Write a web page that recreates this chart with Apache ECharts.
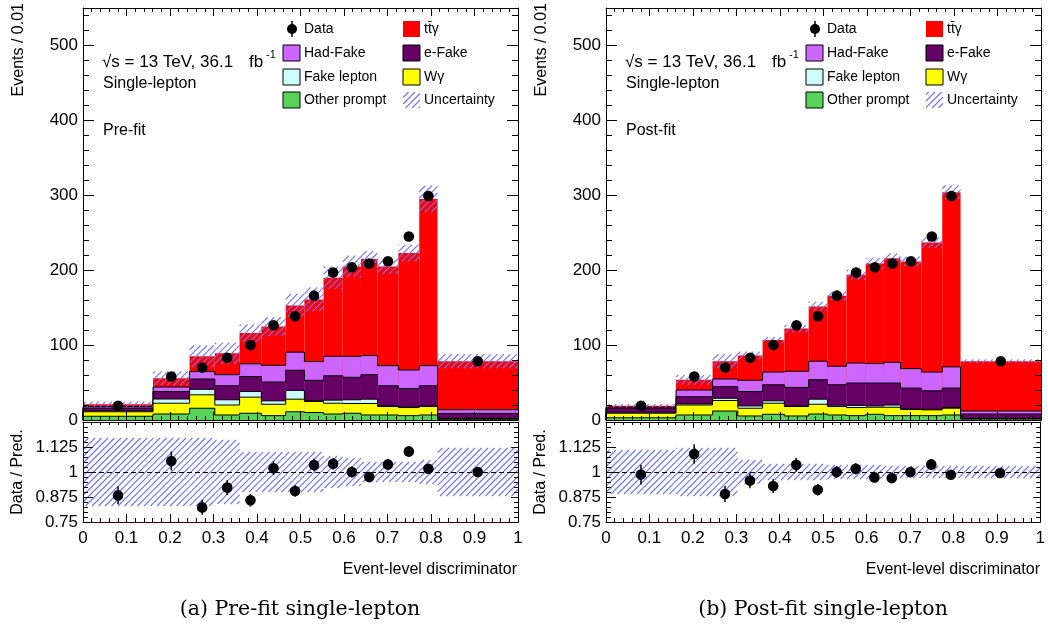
<!DOCTYPE html>
<html><head><meta charset="utf-8">
<script src="https://cdn.jsdelivr.net/npm/echarts@6/dist/echarts.min.js"></script>
<style>html,body{margin:0;padding:0;background:#fff}#c{width:1048px;height:630px}</style>
</head><body><div id="c"></div>
<script>
// ---------- DATA ----------
const binEdges = [0, 0.161, 0.245, 0.303, 0.360, 0.410, 0.466, 0.509, 0.553, 0.597, 0.639, 0.677, 0.725, 0.773, 0.815, 1.0];
const dataValues = [19, 58, 70, 83, 100, 126.5, 138.6, 166, 197, 204, 209, 212, 245, 299, 78.5];
const dataRelErr = [0.05, 0.045, 0.045, 0.04, 0.037, 0.033, 0.032, 0.03, 0.028, 0.027, 0.027, 0.027, 0.025, 0.022, 0.015];

const componentNames = ['Other prompt', 'W\u03b3', 'Fake lepton', 'e-Fake', 'Had-Fake', 'tt\u0304\u03b3'];
const componentColors = ['#58d35a', '#ffff00', '#ccfcfc', '#650065', '#cc66ff', '#ff0000'];

// Pre-fit (bottom -> top of stack)
const preOtherPrompt = [5, 8, 15.7, 6.7, 9, 5.8, 11, 10, 8, 9, 6.7, 6.7, 5.8, 6.7, 1];
const preWgamma      = [6, 14.4, 17.9, 13.3, 21.5, 15.2, 16.8, 14.7, 14.4, 13, 15.3, 11.3, 10.8, 11.3, 0.5];
const preFakeLepton  = [1, 5.6, 7.4, 7, 7.5, 4.6, 11.7, 1, 4.1, 5, 5.8, 1, 0.9, 1, 0.3];
const preEFake       = [4, 10, 13.7, 18.7, 20, 25.1, 26.9, 27.3, 32.5, 30, 32.7, 26.7, 24.5, 26.7, 7];
const preHadFake     = [2, 6, 9.9, 14.8, 17, 22.3, 24.2, 25, 26, 28, 25.5, 26.9, 24.8, 26.9, 5];
const preTtgamma     = [3, 11.6, 20.4, 28.5, 41, 51.7, 62.4, 83, 105, 120, 129, 132.4, 156.2, 222.4, 64.7];
const preRatio  = [0.883, 1.055, 0.823, 0.922, 0.859, 1.019, 0.905, 1.035, 1.041, 1.0, 0.975, 1.038, 1.103, 1.016, 1.0];
const preRelUnc = [0.17, 0.17, 0.17, 0.16, 0.10, 0.10, 0.10, 0.10, 0.08, 0.07, 0.05, 0.05, 0.05, 0.06, 0.12];

// Post-fit
const postOtherPrompt = [3, 6.7, 12, 5.4, 7.6, 5.4, 8, 6.7, 5.8, 7.6, 5.8, 5.8, 5.8, 6.7, 1.3];
const postWgamma      = [6, 13.3, 14, 10.3, 14.8, 12.6, 13, 11.3, 10.8, 9.4, 11.2, 8.2, 7.7, 9, 0.2];
const postFakeLepton  = [1.3, 1.5, 3, 3.1, 3.2, 0.8, 6.8, 1.7, 2.7, 1.8, 3, 0.8, 0.8, 0.9, 0.3];
const postEFake       = [5.4, 9.5, 15.4, 19.2, 21.4, 24.7, 26, 27.3, 30, 30.5, 29.3, 27.8, 24.7, 26, 6.2];
const postHadFake     = [1.3, 9, 10.3, 15, 17, 21.5, 24.7, 24.7, 26.7, 26, 27.7, 26, 25, 28.3, 4];
const postTtgamma     = [2, 13.8, 23.8, 33, 42.7, 57, 73.1, 94.3, 118, 133.7, 139, 143.1, 172.8, 233.1, 66.5];
const postRatio  = [0.987, 1.09, 0.89, 0.957, 0.93, 1.036, 0.911, 1.0, 1.016, 0.973, 0.97, 1.0, 1.038, 0.986, 0.995];
const postRelUnc = [0.11, 0.12, 0.12, 0.06, 0.04, 0.04, 0.04, 0.035, 0.035, 0.035, 0.03, 0.03, 0.03, 0.03, 0.03];

const mainYTicks = [0, 100, 200, 300, 400, 500];
const ratioYTicks = [0.75, 0.875, 1, 1.125];

// ---------- HELPERS ----------
const FONT = 'Liberation Sans, Arial, sans-serif';
const HATCH_COLOR = 'rgb(112,112,255)';
const HATCH_STEP = 6.5;
function hatchLines(x, y, w, h) {
  const out = [];
  if (w <= 0 || h <= 0) return out;
  const s = HATCH_STEP;
  const c0 = Math.ceil((x + y) / s) * s;
  for (let c = c0; c <= x + w + y + h; c += s) {
    const xa = Math.max(x, c - y - h), xb = Math.min(x + w, c - y);
    if (xb - xa > 0.3) {
      out.push({ type: 'line', silent: true,
        shape: { x1: xa, y1: c - xa, x2: xb, y2: c - xb },
        style: { stroke: HATCH_COLOR, lineWidth: 1.1, opacity: 1 } });
    }
  }
  return out;
}

const panels = [
  { comps: [preOtherPrompt, preWgamma, preFakeLepton, preEFake, preHadFake, preTtgamma], ratio: preRatio, unc: preRelUnc, left: 83, label: 'Pre-fit', caption: '(a) Pre-fit single-lepton', capX: 300 },
  { comps: [postOtherPrompt, postWgamma, postFakeLepton, postEFake, postHadFake, postTtgamma], ratio: postRatio, unc: postRelUnc, left: 606, label: 'Post-fit', caption: '(b) Post-fit single-lepton', capX: 823 }
];
const PW = 435;

const grids = [], xAxes = [], yAxes = [], series = [], graphics = [];

function axisCommon(extra) {
  return Object.assign({
    axisLine: { show: true, onZero: false, lineStyle: { color: '#000', width: 1 } },
    splitLine: { show: false },
    z: 10
  }, extra);
}

panels.forEach((p, pi) => {
  const gMain = grids.length;
  grids.push({ left: p.left, top: 8, width: PW, height: 412 });
  const gRatio = grids.length;
  grids.push({ left: p.left, top: 422, width: PW, height: 100 });

  const xMainB = xAxes.length;
  xAxes.push(axisCommon({ type: 'value', gridIndex: gMain, position: 'bottom', min: 0, max: 1, interval: 0.1,
    axisTick: { inside: true, length: 8, lineStyle: { color: '#000' } },
    minorTick: { show: true, splitNumber: 5, length: 4, lineStyle: { color: '#000' } },
    axisLabel: { show: false } }));
  xAxes.push(axisCommon({ type: 'value', gridIndex: gMain, position: 'top', min: 0, max: 1, interval: 0.1,
    axisTick: { inside: true, length: 8, lineStyle: { color: '#000' } },
    minorTick: { show: true, splitNumber: 5, length: 4, lineStyle: { color: '#000' } },
    axisLabel: { show: false } }));
  const xRatioB = xAxes.length;
  xAxes.push(axisCommon({ type: 'value', gridIndex: gRatio, position: 'bottom', min: 0, max: 1, interval: 0.1,
    axisLine: { show: true, onZero: false, lineStyle: { color: '#3a0a0a', width: 1 } },
    axisTick: { inside: true, length: 8, lineStyle: { color: '#000' } },
    minorTick: { show: true, splitNumber: 5, length: 4, lineStyle: { color: '#000' } },
    axisLabel: { show: true, margin: 8, color: '#000', fontSize: 17, fontFamily: FONT } }));
  xAxes.push(axisCommon({ type: 'value', gridIndex: gRatio, position: 'top', min: 0, max: 1, interval: 0.1,
    axisTick: { inside: true, length: 6, lineStyle: { color: '#000' } },
    minorTick: { show: true, splitNumber: 5, length: 3, lineStyle: { color: '#000' } },
    axisLabel: { show: false } }));

  const yMainL = yAxes.length;
  yAxes.push(axisCommon({ type: 'value', gridIndex: gMain, position: 'left', min: 0, max: 550, interval: 100,
    axisTick: { inside: true, length: 11, lineStyle: { color: '#000' } },
    minorTick: { show: true, splitNumber: 5, length: 6, lineStyle: { color: '#000' } },
    axisLabel: { show: true, showMaxLabel: false, margin: 5, color: '#000', fontSize: 17, fontFamily: FONT,
      formatter: v => (mainYTicks.indexOf(v) >= 0 ? String(v) : '') } }));
  yAxes.push(axisCommon({ type: 'value', gridIndex: gMain, position: 'right', min: 0, max: 550, interval: 100,
    axisTick: { inside: true, length: 11, lineStyle: { color: '#000' } },
    minorTick: { show: true, splitNumber: 5, length: 6, lineStyle: { color: '#000' } },
    axisLabel: { show: false } }));
  const yRatioL = yAxes.length;
  yAxes.push(axisCommon({ type: 'value', gridIndex: gRatio, position: 'left', min: 0.75, max: 1.25, interval: 0.125,
    axisTick: { inside: true, length: 10, lineStyle: { color: '#000' } },
    minorTick: { show: true, splitNumber: 5, length: 5, lineStyle: { color: '#000' } },
    axisLabel: { show: true, showMaxLabel: false, margin: 5, color: '#000', fontSize: 17, fontFamily: FONT,
      formatter: v => { const t = ratioYTicks.find(r => Math.abs(r - v) < 1e-6); return t === undefined ? '' : String(t); } } }));
  yAxes.push(axisCommon({ type: 'value', gridIndex: gRatio, position: 'right', min: 0.75, max: 1.25, interval: 0.125,
    axisTick: { inside: true, length: 7, lineStyle: { color: '#000' } },
    minorTick: { show: true, splitNumber: 5, length: 4, lineStyle: { color: '#000' } },
    axisLabel: { show: false } }));

  const nb = dataValues.length;
  const cum = [];
  let run = new Array(nb).fill(0);
  p.comps.forEach(arr => { run = run.map((v, i) => v + arr[i]); cum.push(run.slice()); });
  const total = cum[cum.length - 1];

  for (let k = p.comps.length - 1; k >= 0; k--) {
    const c = cum[k];
    const items = c.map((v, i) => [binEdges[i], binEdges[i + 1], v, i > 0 ? c[i - 1] : 0]);
    const color = componentColors[k];
    const outline = k !== p.comps.length - 1;
    series.push({
      type: 'custom', name: componentNames[k], xAxisIndex: xMainB, yAxisIndex: yMainL,
      z: 2 + (p.comps.length - k), silent: true, animation: false,
      data: items,
      renderItem: (params, api) => {
        const a = api.coord([api.value(0), 0]);
        const b = api.coord([api.value(1), api.value(2)]);
        const pv = api.coord([api.value(0), api.value(3)]);
        const ch = [{ type: 'rect', shape: { x: a[0], y: b[1], width: b[0] - a[0], height: a[1] - b[1] }, style: { fill: color } }];
        if (outline) {
          ch.push({ type: 'polyline', shape: { points: [[a[0], pv[1]], [a[0], b[1]], [b[0], b[1]]] },
            style: { stroke: '#000', lineWidth: 1, fill: null } });
        }
        return { type: 'group', children: ch };
      }
    });
  }

  series.push({
    type: 'custom', xAxisIndex: xMainB, yAxisIndex: yMainL, z: 9, silent: true, animation: false,
    data: total.map((t, i) => [binEdges[i], binEdges[i + 1], t * (1 - p.unc[i]), t * (1 + p.unc[i])]),
    renderItem: (params, api) => {
      const a = api.coord([api.value(0), api.value(2)]);
      const b = api.coord([api.value(1), api.value(3)]);
      return { type: 'group', children: hatchLines(a[0], b[1], b[0] - a[0], a[1] - b[1]) };
    }
  });

  series.push({
    type: 'custom', xAxisIndex: xMainB, yAxisIndex: yMainL, z: 12, silent: true, animation: false,
    data: dataValues.map((v, i) => [(binEdges[i] + binEdges[i + 1]) / 2, v, v * dataRelErr[i]]),
    renderItem: (params, api) => {
      const c = api.coord([api.value(0), api.value(1)]);
      const lo = api.coord([api.value(0), api.value(1) - api.value(2)]);
      const hi = api.coord([api.value(0), api.value(1) + api.value(2)]);
      return { type: 'group', children: [
        { type: 'line', shape: { x1: c[0], y1: lo[1], x2: c[0], y2: hi[1] }, style: { stroke: '#000', lineWidth: 1.5 } },
        { type: 'circle', shape: { cx: c[0], cy: c[1], r: 5.3 }, style: { fill: '#000' } }
      ] };
    }
  });

  series.push({
    type: 'custom', xAxisIndex: xRatioB, yAxisIndex: yRatioL, z: 3, silent: true, animation: false,
    data: p.unc.map((u, i) => [binEdges[i], binEdges[i + 1], 1 - u, 1 + u]),
    renderItem: (params, api) => {
      const a = api.coord([api.value(0), api.value(2)]);
      const b = api.coord([api.value(1), api.value(3)]);
      return { type: 'group', children: hatchLines(a[0], b[1], b[0] - a[0], a[1] - b[1]) };
    }
  });

  series.push({
    type: 'custom', xAxisIndex: xRatioB, yAxisIndex: yRatioL, z: 12, silent: true, animation: false,
    data: p.ratio.map((r, i) => [(binEdges[i] + binEdges[i + 1]) / 2, r, r * dataRelErr[i]]),
    renderItem: (params, api) => {
      const c = api.coord([api.value(0), api.value(1)]);
      const lo = api.coord([api.value(0), api.value(1) - api.value(2)]);
      const hi = api.coord([api.value(0), api.value(1) + api.value(2)]);
      return { type: 'group', children: [
        { type: 'line', shape: { x1: c[0], y1: lo[1], x2: c[0], y2: hi[1] }, style: { stroke: '#000', lineWidth: 1.5 } },
        { type: 'circle', shape: { cx: c[0], cy: c[1], r: 5.3 }, style: { fill: '#000' } }
      ] };
    },
    markLine: { silent: true, symbol: 'none', animation: false, z: 5,
      data: [{ yAxis: 1 }], label: { show: false },
      lineStyle: { type: [5, 3], color: '#000', width: 1 } }
  });

  const dx = p.left - 83;
  const txt = (x, y, text, size, extra, rot) => graphics.push(Object.assign({ type: 'text', x: x, y: y, z: 50, silent: true,
    rotation: rot || 0,
    style: Object.assign({ text: text, fontSize: size, fontFamily: FONT, fill: '#000', verticalAlign: 'middle' }, extra || {}) }));

  txt(19 + dx, 3, 'Events / 0.01', 16, { align: 'right' }, Math.PI / 2);
  txt(18 + dx, 472, 'Data / Pred.', 16, { align: 'center' }, Math.PI / 2);
  txt(517 + dx, 570, 'Event-level discriminator', 16, { align: 'right' });
  txt(p.capX, 610, p.caption, 20.5, { align: 'center', fontFamily: 'DejaVu Serif, Liberation Serif, serif' });

  txt(102 + dx, 62, '\u221as = 13 TeV, 36.1', 17);
  txt(249 + dx, 62, 'fb', 17);
  txt(266 + dx, 55, '-1', 11);
  txt(103 + dx, 84, 'Single-lepton', 16);
  txt(103 + dx, 131, p.label, 16);

  const col1 = 283 + dx, col2 = 403 + dx;
  const rows = [29, 53, 77, 100];
  graphics.push({ type: 'line', z: 50, silent: true, shape: { x1: col1 + 9, y1: rows[0] - 8, x2: col1 + 9, y2: rows[0] + 8 }, style: { stroke: '#000', lineWidth: 1.5 } });
  graphics.push({ type: 'circle', z: 50, silent: true, shape: { cx: col1 + 9, cy: rows[0], r: 5 }, style: { fill: '#000' } });
  txt(col1 + 21, rows[0], 'Data', 14);
  const box = (x, y, color, stroke) => graphics.push({ type: 'rect', z: 50, silent: true, shape: { x: x, y: y - 8, width: 17, height: 16 },
    style: stroke ? { fill: color, stroke: '#000', lineWidth: 1 } : { fill: color } });
  box(col1, rows[1], componentColors[4], true); txt(col1 + 21, rows[1], componentNames[4], 14);
  box(col1, rows[2], componentColors[2], true); txt(col1 + 21, rows[2], componentNames[2], 14);
  box(col1, rows[3], componentColors[0], true); txt(col1 + 21, rows[3], componentNames[0], 14);
  box(col2, rows[0], componentColors[5], false); txt(col2 + 21, rows[0], componentNames[5], 14);
  box(col2, rows[1], componentColors[3], true); txt(col2 + 21, rows[1], componentNames[3], 14);
  box(col2, rows[2], componentColors[1], true); txt(col2 + 21, rows[2], componentNames[1], 14);
  graphics.push({ type: 'group', z: 50, silent: true, children: hatchLines(col2, rows[3] - 8, 17, 16) });
  txt(col2 + 21, rows[3], 'Uncertainty', 14);
});

const chart = echarts.init(document.getElementById('c'), null, { renderer: 'canvas' });
chart.setOption({
  animation: false,
  backgroundColor: '#fff',
  grid: grids, xAxis: xAxes, yAxis: yAxes, series: series,
  graphic: { elements: graphics }
});
</script></body></html>
